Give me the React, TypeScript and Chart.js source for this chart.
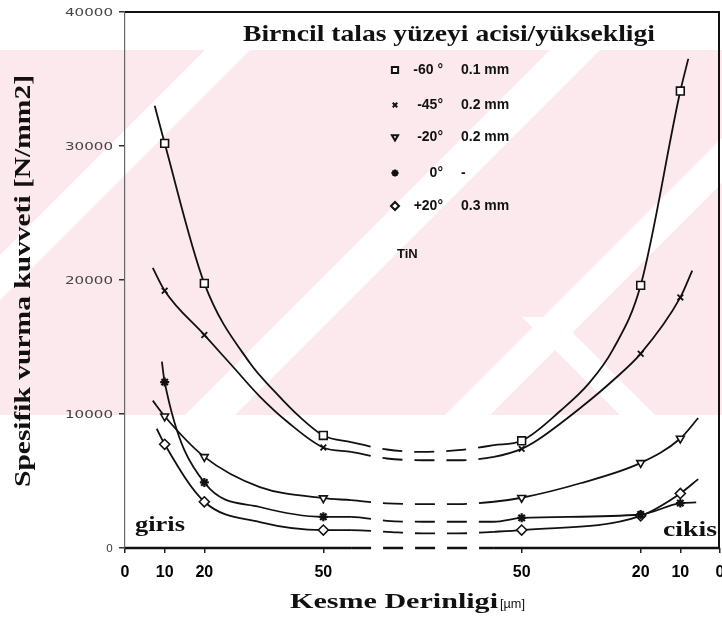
import React, { useEffect, useRef } from 'react';
import { Chart, registerables } from 'chart.js';
import { drawPoint } from 'chart.js/helpers';

Chart.register(...registerables);

// ---------- data ----------
const X_TICK_POS = [0, 10, 20, 50, 100, 130, 140, 150];
const X_TICK_LABELS = ['0', '10', '20', '50', '50', '20', '10', '0'];
const Y_TICKS = [0, 10000, 20000, 30000, 40000];
const Y_TICK_LABELS = ['0', '10000', '20000', '30000', '40000'];
const MARKED_POS = [10, 20, 50, 100, 130, 140];

const SQ_POS = [7.5, 10, 20, 31.5, 38, 44, 50, 57, 66, 75, 84, 93, 100, 110, 117, 123, 130, 140, 142];
const SQ_VAL = [33000, 30200, 19750, 13800, 11600, 9800, 8400, 7900, 7350, 7170, 7300, 7670, 8000, 10300, 12300, 14800, 19600, 34100, 36500];

const X45_POS = [7, 10, 20, 27, 34, 41, 50, 57, 66, 75, 84, 93, 100, 104, 115, 123, 130, 140, 143];
const X45_VAL = [20900, 19200, 15900, 13600, 11300, 9400, 7500, 7170, 6680, 6550, 6550, 6800, 7400, 8060, 10500, 12500, 14500, 18700, 20700];

const TR_POS = [7, 10, 20, 34, 50, 57, 66, 75, 84, 93, 100, 115, 130, 140, 144.5];
const TR_VAL = [11000, 9830, 6800, 4550, 3720, 3570, 3330, 3280, 3280, 3450, 3750, 4850, 6350, 8170, 9700];

const ST_POS = [9.3, 10, 20, 34, 50, 57, 66, 75, 84, 93, 100, 130, 140, 144];
const ST_VAL = [13900, 12380, 4890, 3060, 2330, 2330, 2030, 1960, 1960, 1960, 2250, 2500, 3350, 3400];

const CI_POS = [8, 10, 20, 34, 50, 57, 66, 75, 84, 93, 100, 130, 140, 144.5];
const CI_VAL = [8900, 7740, 3450, 1940, 1340, 1340, 1210, 1090, 1090, 1210, 1340, 2400, 4070, 5140];

const BASE_POS = [0, 57, 66, 75, 84, 93, 150];
const BASE_VAL = [0, 0, 0, 0, 0, 0, 0];

const LEGEND_ANGLE = ['-60 \u00b0', '-45\u00b0', '-20\u00b0', '0\u00b0', '+20\u00b0'];
const LEGEND_DEPTH = ['0.1 mm', '0.2 mm', '0.2 mm', '-', '0.3 mm'];

const TITLE = 'Birncil talas y\u00fczeyi acisi/y\u00fcksekligi';
const Y_TITLE = 'Spesifik vurma kuvveti [N/mm2]';
const X_TITLE = 'Kesme Derinligi';
const X_UNIT = '[\u00b5m]';
const COATING = 'TiN';
const ENTRY = 'giris';
const EXIT = 'cikis';

// ---------- styles ----------
const DASH_FROM = 57;
const DASH_TO = 93;
const INK = '#111';
const PINK = '#fce9ed';
const SERIES = [
  { pos: SQ_POS, val: SQ_VAL, style: 'rect', rot: 0, r: 5.5, bw: 1.6, fill: '#fff' },
  { pos: X45_POS, val: X45_VAL, style: 'crossRot', rot: 0, r: 4, bw: 1.8, fill: '#fff' },
  { pos: TR_POS, val: TR_VAL, style: 'triangle', rot: 180, r: 4.5, bw: 1.6, fill: '#fff' },
  { pos: ST_POS, val: ST_VAL, style: 'star', rot: 0, r: 4.5, bw: 2.2, fill: INK },
  { pos: CI_POS, val: CI_VAL, style: 'rectRot', rot: 0, r: 5, bw: 1.6, fill: '#fff' },
];
// watermark bands: "/" bands as x+y ranges, "\" bands as [x-y range, y start]
const SLASH_BANDS = [[255, 300], [600, 650], [860, 905]];
const BACKSLASH_BANDS = [[205, 240, 317]];
const LEGEND_ROWS_Y = [70, 105, 137, 173, 206];

function stretchText(ctx: CanvasRenderingContext2D, text: string, x: number, y: number, width: number, font: string, align: 'left' | 'center' | 'right' = 'left') {
  ctx.save();
  ctx.font = font;
  const w = ctx.measureText(text).width;
  const s = width / w;
  const x0 = align === 'center' ? x - width / 2 : align === 'right' ? x - width : x;
  ctx.translate(x0, y);
  ctx.scale(s, 1);
  ctx.textAlign = 'left';
  ctx.textBaseline = 'alphabetic';
  ctx.fillText(text, 0, 0);
  ctx.restore();
}

const decor = {
  id: 'decor',
  beforeDraw(chart: any) {
    const ctx = chart.ctx as CanvasRenderingContext2D;
    ctx.save();
    ctx.fillStyle = '#fff';
    ctx.fillRect(0, 0, chart.width, chart.height);
    ctx.beginPath();
    ctx.rect(0, 50, chart.width, 365);
    ctx.clip();
    ctx.fillStyle = PINK;
    ctx.fillRect(0, 50, chart.width, 365);
    ctx.fillStyle = '#fff';
    for (const [a, b] of SLASH_BANDS) {
      ctx.beginPath();
      ctx.moveTo(a, 0); ctx.lineTo(b, 0); ctx.lineTo(b - 800, 800); ctx.lineTo(a - 800, 800);
      ctx.closePath(); ctx.fill();
    }
    for (const [a, b, y0] of BACKSLASH_BANDS) {
      ctx.beginPath();
      ctx.moveTo(a + y0, y0); ctx.lineTo(b + y0, y0); ctx.lineTo(b + 800, 800); ctx.lineTo(a + 800, 800);
      ctx.closePath(); ctx.fill();
    }
    ctx.restore();
  },
  afterDraw(chart: any) {
    const ctx = chart.ctx as CanvasRenderingContext2D;
    const ca = chart.chartArea;
    const ys = chart.scales.y;
    ctx.save();
    // frame
    ctx.strokeStyle = INK;
    ctx.lineWidth = 2;
    ctx.beginPath();
    ctx.moveTo(ca.left, ca.top);
    ctx.lineTo(ca.right - 1, ca.top);
    ctx.lineTo(ca.right - 1, ca.bottom);
    ctx.stroke();

    // y tick labels
    ctx.fillStyle = '#444';
    Y_TICKS.forEach((v, i) => {
      const y = ys.getPixelForValue(v);
      const lbl = Y_TICK_LABELS[i];
      const w = lbl.length === 1 ? 7 : 48;
      stretchText(ctx, lbl, 113, y + 4, w, '11px "DejaVu Sans"', 'right');
    });
    ctx.fillStyle = INK;

    // title inside plot
    stretchText(ctx, TITLE, 449, 41, 412, 'bold 23px "Liberation Serif"', 'center');

    // legend
    SERIES.forEach((s, i) => {
      const y = LEGEND_ROWS_Y[i];
      ctx.fillStyle = s.fill;
      ctx.strokeStyle = INK;
      drawPoint(ctx, { pointStyle: s.style, rotation: s.rot, radius: s.r * 0.8, borderWidth: s.bw } as any, 395, y);
      ctx.fillStyle = INK;
      ctx.font = 'bold 14px "Liberation Sans"';
      ctx.textBaseline = 'middle';
      ctx.textAlign = 'right';
      ctx.fillText(LEGEND_ANGLE[i], 443, y);
      ctx.textAlign = 'left';
      ctx.fillText(LEGEND_DEPTH[i], 461, y);
    });
    ctx.textBaseline = 'alphabetic';
    ctx.textAlign = 'left';
    ctx.font = 'bold 13px "Liberation Sans"';
    ctx.fillText(COATING, 397, 258);

    // entry / exit labels
    stretchText(ctx, ENTRY, 135, 531, 50, 'bold 22px "Liberation Serif"');
    stretchText(ctx, EXIT, 717, 536, 54, 'bold 22px "Liberation Serif"', 'right');

    // axis titles
    stretchText(ctx, X_TITLE, 290, 608, 208, 'bold 22px "Liberation Serif"');
    stretchText(ctx, X_UNIT, 500, 608, 25, '12px "Liberation Sans"');
    ctx.translate(30, (ca.top + ca.bottom) / 2 + 1);
    ctx.rotate(-Math.PI / 2);
    stretchText(ctx, Y_TITLE, 0, 0, 412, 'bold 23px "Liberation Serif"', 'center');
    ctx.restore();
  },
};

export default function App() {
  const ref = useRef<HTMLCanvasElement>(null);
  useEffect(() => {
    if (!ref.current) return;
    const dash = (c: any) => (c.p0.parsed.x >= DASH_FROM && c.p1.parsed.x <= DASH_TO ? [20, 12] : undefined);
    const datasets: any[] = SERIES.map((s) => ({
      data: s.pos.map((p, i) => ({ x: p, y: s.val[i] })),
      borderColor: INK,
      borderWidth: 1.8,
      backgroundColor: s.fill,
      pointStyle: s.style,
      pointRotation: s.rot,
      pointRadius: (c: any) => (c.raw && MARKED_POS.includes(c.raw.x) ? s.r : 0),
      pointBorderWidth: s.bw,
      pointBorderColor: INK,
      pointBackgroundColor: s.fill,
      cubicInterpolationMode: 'monotone',
      fill: false,
      segment: { borderDash: dash },
    }));
    datasets.push({
      data: BASE_POS.map((p, i) => ({ x: p, y: BASE_VAL[i] })),
      borderColor: INK,
      borderWidth: 2.5,
      pointRadius: 0,
      fill: false,
      segment: { borderDash: dash },
      clip: 4,
    });
    const chart = new Chart(ref.current, {
      type: 'line',
      data: { datasets },
      options: {
        responsive: false,
        animation: false,
        events: [],
        layout: { padding: { top: 12, right: 2, bottom: 0, left: 0 }, autoPadding: false },
        plugins: { legend: { display: false }, title: { display: false }, tooltip: { enabled: false } },
        scales: {
          x: {
            type: 'linear',
            min: 0,
            max: 150,
            afterBuildTicks: (scale: any) => {
              scale.ticks = X_TICK_POS.map((v) => ({ value: v }));
            },
            afterFit: (scale: any) => {
              scale.height = 72;
              scale.paddingLeft = 0;
              scale.paddingRight = 0;
            },
            ticks: {
              autoSkip: false,
              maxRotation: 0,
              padding: 10,
              color: '#000',
              font: { family: '"Liberation Sans"', size: 16, weight: 'bold' },
              callback: (_v: any, i: number) => X_TICK_LABELS[i],
            },
            grid: { display: true, drawOnChartArea: false, drawTicks: true, tickLength: 5, color: '#222', lineWidth: 1.5 },
            border: { display: false },
          },
          y: {
            type: 'linear',
            min: 0,
            max: 40000,
            afterBuildTicks: (scale: any) => {
              scale.ticks = Y_TICKS.map((v) => ({ value: v }));
            },
            afterFit: (scale: any) => {
              scale.width = 125;
              scale.paddingTop = 0;
              scale.paddingBottom = 0;
            },
            ticks: { display: false },
            grid: { display: true, drawOnChartArea: false, drawTicks: true, tickLength: 6, color: '#333', lineWidth: 1.5 },
            border: { display: true, dash: [2, 7], color: '#666', width: 1.2 },
          },
        },
      } as any,
      plugins: [decor],
    });
    return () => chart.destroy();
  }, []);
  return (
    <div style={{ position: 'fixed', left: 0, top: 0, width: 722, height: 620, background: '#fff' }}>
      <canvas ref={ref} width={722} height={620} style={{ display: 'block' }} />
    </div>
  );
}
